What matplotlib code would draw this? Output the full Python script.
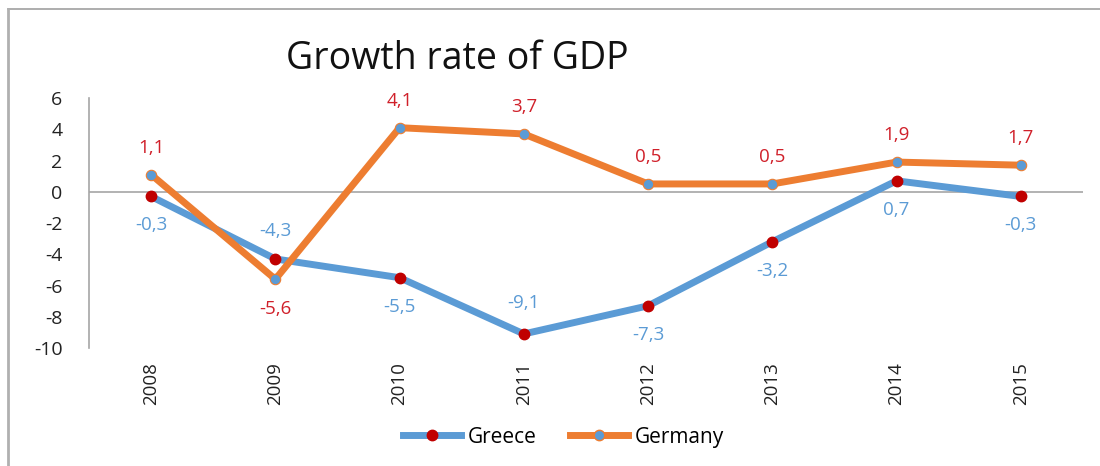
import matplotlib
matplotlib.use("Agg")
import matplotlib.pyplot as plt
from matplotlib.lines import Line2D

plt.rcParams['font.family'] = ['Open Sans', 'DejaVu Sans']

years = ["2008", "2009", "2010", "2011", "2012", "2013", "2014", "2015"]
greece = [-0.3, -4.3, -5.5, -9.1, -7.3, -3.2, 0.7, -0.3]
germany = [1.1, -5.6, 4.1, 3.7, 0.5, 0.5, 1.9, 1.7]

BLUE = "#5B9BD5"
ORANGE = "#ED7D31"
RED = "#C00000"
LABEL_RED = "#D0202A"

fig = plt.figure(figsize=(11, 4.66), dpi=100)
ax = fig.add_axes([0.0809, 0.2532, 0.9036, 0.5365])

x = list(range(len(years)))

ax.plot(x, greece, color=BLUE, lw=5, marker="o", ms=7.5,
        mfc=RED, mec=RED, solid_capstyle="round", zorder=3)
ax.plot(x, germany, color=ORANGE, lw=5, marker="o", ms=7.5,
        mfc=BLUE, mec=ORANGE, mew=0.8, solid_capstyle="round", zorder=4)

def fmt(v):
    return f"{v:.1f}".replace(".", ",")

# data labels: Germany above (below in 2009), Greece below (above in 2009 and 2011)
ger_off = [27, -30, 27, 27, 27, 27, 27, 27]
gre_off = [-29, 28, -29, 31, -29, -29, -29, -29]
for i, v in enumerate(germany):
    ax.annotate(fmt(v), (i, v), xytext=(0, ger_off[i]), textcoords="offset pixels",
                ha="center", va="center", color=LABEL_RED, fontsize=13.5)
for i, v in enumerate(greece):
    ax.annotate(fmt(v), (i, v), xytext=(0, gre_off[i]), textcoords="offset pixels",
                ha="center", va="center", color=BLUE, fontsize=13.5)

ax.set_xlim(-0.5, len(years) - 0.5)
ax.set_ylim(-10, 6)
ax.set_yticks(range(-10, 7, 2))
ax.set_yticklabels([str(t) for t in range(-10, 7, 2)], fontsize=14, color="#222222")
ax.set_xticks(x)
ax.set_xticklabels(years, rotation=90, fontsize=13.5, color="#222222")
ax.tick_params(axis="y", length=0, pad=19)
ax.tick_params(axis="x", length=0, pad=10)

for s in ["top", "right", "bottom"]:
    ax.spines[s].set_visible(False)
ax.spines["left"].set_color("#A6A6A6")
ax.spines["left"].set_linewidth(1.2)
ax.axhline(0, color="#A6A6A6", lw=1.2, zorder=1)

fig.text(0.416, 0.874, "Growth rate of GDP", ha="center", va="center",
         fontsize=27, color="#111111")

handles = [
    Line2D([], [], color=BLUE, lw=5, marker="o", ms=7.5, mfc=RED, mec=RED),
    Line2D([], [], color=ORANGE, lw=5, marker="o", ms=7.5, mfc=BLUE, mec=ORANGE),
]
fig.legend(handles, ["Greece", "Germany"], loc="center", bbox_to_anchor=(0.512, 0.062),
           ncol=2, frameon=False, fontsize=15, handlelength=2.8, columnspacing=1.6,
           handletextpad=0.3)

# outer frame (top and left edges)
fig.add_artist(Line2D([8 / 1100, 1.0], [1 - 9 / 466, 1 - 9 / 466],
                      transform=fig.transFigure, color="#A0A0A0", lw=1.2))
fig.add_artist(Line2D([8 / 1100, 8 / 1100], [0.0, 1 - 9 / 466],
                      transform=fig.transFigure, color="#B0B0B0", lw=2))

fig.savefig("out.png", dpi=100)
